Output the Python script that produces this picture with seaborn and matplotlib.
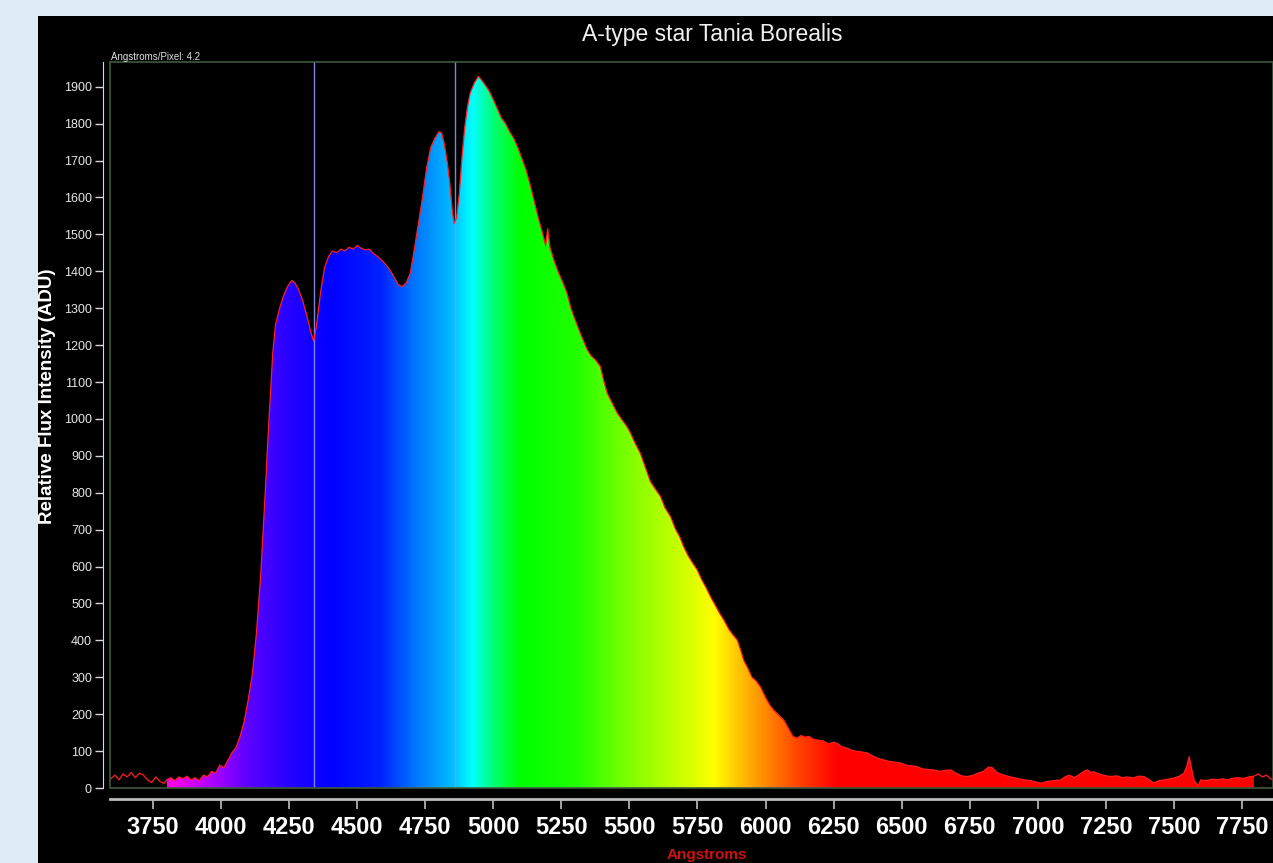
import numpy as np
import matplotlib.pyplot as plt
import seaborn as sns
from matplotlib.colors import LinearSegmentedColormap
from matplotlib.patches import Rectangle

# spectrum (Angstrom, ADU)
wavelength = [3595, 3610, 3625, 3640, 3655, 3670, 3685, 3700, 3715, 3730, 3745, 3760, 3775, 3790,
              3800, 3815, 3830, 3845, 3860, 3875, 3890, 3905, 3920, 3935, 3950, 3965, 3980, 3995,
              4010, 4025, 4040, 4055, 4070, 4085, 4100, 4115, 4130, 4145, 4160, 4175, 4190, 4200,
              4215, 4230, 4245, 4260, 4270, 4285, 4300, 4315, 4330, 4340, 4350, 4365, 4380, 4395,
              4410, 4425, 4440, 4455, 4470, 4485, 4500, 4515, 4530, 4545, 4560, 4575, 4590, 4605,
              4620, 4635, 4650, 4665, 4680, 4695, 4710, 4725, 4740, 4755, 4770, 4785, 4800, 4810,
              4820, 4830, 4840, 4850, 4856, 4865, 4875, 4885, 4895, 4905, 4915, 4930, 4945, 4955,
              4970, 4985, 5000, 5015, 5030, 5045, 5060, 5075, 5090, 5105, 5120, 5135, 5150, 5165,
              5180, 5192, 5200, 5208, 5222, 5240, 5255, 5270, 5285, 5296, 5310, 5325, 5345, 5360,
              5375, 5393, 5405, 5418, 5435, 5455, 5475, 5491, 5505, 5520, 5540, 5560, 5577, 5595,
              5614, 5630, 5651, 5670, 5685, 5699, 5715, 5730, 5749, 5765, 5780, 5798, 5815, 5830,
              5847, 5865, 5880, 5896, 5910, 5920, 5932, 5950, 5965, 5981, 6000, 6015, 6030, 6045,
              6067, 6085, 6100, 6115, 6130, 6145, 6160, 6175, 6190, 6210, 6230, 6250, 6263, 6280,
              6300, 6313, 6330, 6350, 6374, 6395, 6415, 6434, 6455, 6475, 6496, 6515, 6535, 6557,
              6575, 6600, 6618, 6640, 6660, 6680, 6700, 6720, 6741, 6760, 6780, 6800, 6820, 6833,
              6850, 6875, 6900, 6925, 6950, 6975, 7000, 7015, 7035, 7060, 7084, 7100, 7115, 7135,
              7155, 7170, 7182, 7195, 7206, 7225, 7245, 7268, 7290, 7310, 7330, 7350, 7370, 7390,
              7410, 7427, 7445, 7465, 7485, 7500, 7520, 7537, 7548, 7556, 7564, 7574, 7588, 7599,
              7620, 7640, 7660, 7680, 7697, 7715, 7735, 7755, 7775, 7794, 7810, 7825, 7840, 7855,
              7865]
flux = [25, 35, 22, 38, 30, 42, 28, 40, 35, 22, 15, 30, 18, 12,
        22, 28, 20, 30, 25, 32, 22, 28, 20, 35, 30, 45, 40, 62,
        55, 75, 95, 110, 140, 180, 240, 310, 420, 570, 770, 985, 1180, 1255,
        1300, 1335, 1360, 1375, 1370, 1350, 1320, 1280, 1235, 1210, 1250, 1340, 1410, 1440,
        1455, 1450, 1460, 1455, 1465, 1460, 1470, 1462, 1458, 1460, 1448, 1440, 1430, 1418,
        1404, 1385, 1365, 1358, 1368, 1395, 1460, 1530, 1600, 1680, 1735, 1760, 1778, 1775,
        1745, 1700, 1640, 1560, 1530, 1545, 1610, 1710, 1790, 1845, 1883, 1910, 1928, 1920,
        1905, 1888, 1865, 1840, 1815, 1800, 1778, 1760, 1735, 1705, 1675, 1635, 1590, 1545,
        1505, 1470, 1515, 1465, 1431, 1395, 1370, 1342, 1300, 1277, 1250, 1222, 1187, 1170,
        1160, 1142, 1105, 1070, 1045, 1016, 995, 979, 960, 935, 907, 865, 830, 810,
        790, 760, 735, 700, 680, 654, 630, 612, 591, 565, 545, 518, 495, 475,
        455, 430, 415, 401, 370, 345, 329, 300, 290, 274, 245, 225, 211, 200,
        184, 160, 140, 135, 142, 138, 140, 132, 130, 128, 120, 124, 121, 112,
        108, 103, 100, 98, 95, 86, 80, 76, 72, 70, 68, 62, 60, 58,
        52, 50, 49, 45, 48, 49, 40, 33, 31, 34, 40, 45, 57, 55,
        42, 35, 30, 26, 22, 20, 15, 13, 18, 20, 22, 30, 35, 28,
        38, 45, 49, 42, 44, 38, 34, 31, 33, 28, 30, 27, 32, 31,
        22, 13, 20, 22, 25, 27, 32, 40, 60, 85, 55, 22, 5, 22,
        20, 24, 22, 25, 22, 26, 28, 26, 30, 32, 38, 30, 35, 25,
        22]

xtick_vals = [3750, 4000, 4250, 4500, 4750, 5000, 5250, 5500, 5750, 6000, 6250, 6500, 6750,
              7000, 7250, 7500, 7750]
ytick_vals = list(range(0, 2000, 100))
balmer_lines = [4340, 4861]
fill_range = (3800, 7800)

# colour of the fill by wavelength
spec_stops = [(3800, '#ff00e6'), (3950, '#b400ff'), (4100, '#5a00ff'), (4250, '#2400ff'),
              (4400, '#0000ff'), (4580, '#0020ff'), (4700, '#0070ff'), (4840, '#00b8ff'),
              (4920, '#00ffff'), (5000, '#00ff70'), (5100, '#00ff00'), (5300, '#20ff00'),
              (5500, '#80ff00'), (5700, '#d0ff00'), (5810, '#ffff00'), (5900, '#ffc400'),
              (6000, '#ff8800'), (6120, '#ff4400'), (6260, '#ff0000'), (7800, '#ff0000')]

plt.rcParams['font.family'] = ['Liberation Sans', 'DejaVu Sans']

W, H = 1273, 863
fig = plt.figure(figsize=(W / 100, H / 100), dpi=100, facecolor='#deeaf6')
fig.patches.append(Rectangle((38 / W, 0), 1 - 38 / W, 1 - 16 / H, transform=fig.transFigure,
                             facecolor='black', edgecolor='none', zorder=-10))

ax = fig.add_axes([110 / W, 1 - 788 / H, 1 - 110 / W, (788 - 62) / H])
ax.set_facecolor('black')
ax.set_xlim(3592, 7864)
ax.set_ylim(0, 1967)

wl = np.array(wavelength)
fx = np.array(flux)
sel = (wl >= fill_range[0]) & (wl <= fill_range[1])
poly = ax.fill_between(wl[sel], 0, fx[sel], color='none', lw=0)

lo, hi = fill_range
cmap = LinearSegmentedColormap.from_list(
    'spec', [((w - lo) / (hi - lo), c) for w, c in spec_stops], N=1024)
grad = np.linspace(0, 1, 2000).reshape(1, -1)
im = ax.imshow(grad, extent=[lo, hi, 0, 1967], aspect='auto', cmap=cmap, origin='lower', zorder=1)
im.set_clip_path(poly.get_paths()[0], transform=ax.transData)

for b in balmer_lines:
    ax.axvline(b, color='#9090ff', lw=1, alpha=0.9, zorder=3)

sns.lineplot(x=wl, y=fx, color='#ff1e1e', lw=0.9, ax=ax, zorder=4, sort=True)
ax.set_xlabel('')
ax.set_ylabel('')

# frame
ax.add_patch(Rectangle((0, 0), 1, 1, transform=ax.transAxes, fill=False,
                       edgecolor='#3d5a3d', lw=1.2, zorder=5, clip_on=False))
ax.spines['top'].set_visible(False)
ax.spines['right'].set_visible(False)
ax.spines['left'].set_position(('outward', 5))
ax.spines['left'].set_color('#d8d8d8')
ax.spines['bottom'].set_position(('outward', 8))
ax.spines['bottom'].set_color('#bdbdbd')
ax.spines['bottom'].set_linewidth(2)

ax.set_xticks(xtick_vals)
ax.set_xticklabels([str(v) for v in xtick_vals], fontsize=17, fontweight='bold', color='white')
ax.set_yticks(ytick_vals)
ax.set_yticklabels([str(v) for v in ytick_vals], fontsize=9, color='#e6e6e6')
ax.tick_params(axis='x', length=7, width=1.2, color='#bdbdbd', pad=5)
ax.tick_params(axis='y', length=6, width=1, color='#d8d8d8', pad=2)

fig.text(712 / W, 1 - 35 / H, 'A-type star Tania Borealis', color='#f0f0f0', fontsize=16.5,
         ha='center', va='center')
fig.text(111 / W, 1 - 57 / H, 'Angstroms/Pixel: 4.2', color='#e0e0e0', fontsize=7,
         ha='left', va='center')
fig.text(48 / W, 1 - 396 / H, 'Relative Flux Intensity (ADU)', color='white', fontsize=13.5,
         fontweight='bold', rotation=90, ha='center', va='center')
fig.text(707 / W, 1 - 855 / H, 'Angstroms', color='#d01010', fontsize=11, fontweight='bold',
         ha='center', va='center')

fig.savefig('out.png', dpi=100, facecolor=fig.get_facecolor())
